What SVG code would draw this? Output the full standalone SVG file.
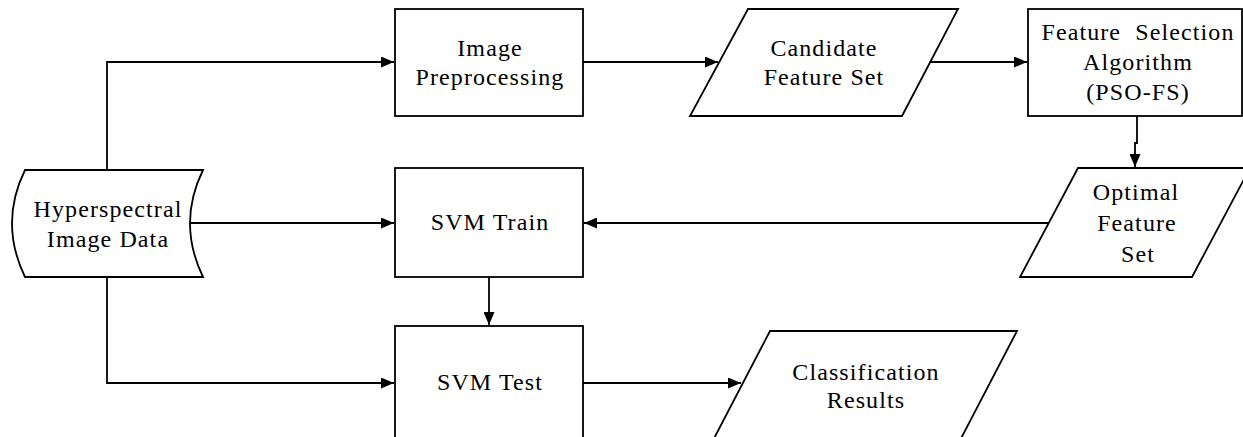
<svg xmlns="http://www.w3.org/2000/svg" width="1243" height="437" viewBox="0 0 1243 437">
<style>
.s{fill:#fff;stroke:#000;stroke-width:1.8}
.c{fill:none;stroke:#000;stroke-width:1.8}
text{font-family:'Liberation Serif','DejaVu Serif',serif;font-size:24px;letter-spacing:1.1px;text-anchor:middle;fill:#000}
</style>
<defs>
<marker id="a" markerWidth="13" markerHeight="11" refX="13" refY="5.5" orient="auto" markerUnits="userSpaceOnUse">
<path d="M0,0 L13,5.5 L0,11 Z" fill="#000"/>
</marker>
</defs>
<rect width="1243" height="437" fill="#fff"/>
<g id="connectors">
<path class="c" d="M107,170 V62 H394" marker-end="url(#a)"/>
<path class="c" d="M583,62 H718" marker-end="url(#a)"/>
<path class="c" d="M929,62 H1027" marker-end="url(#a)"/>
<path class="c" d="M1137,116 V143 H1135 V167" marker-end="url(#a)"/>
<path class="c" d="M1049,223 H584" marker-end="url(#a)"/>
<path class="c" d="M190,223 H394" marker-end="url(#a)"/>
<path class="c" d="M489,277 V325" marker-end="url(#a)"/>
<path class="c" d="M107,277 V383 H394" marker-end="url(#a)"/>
<path class="c" d="M583,383 H741" marker-end="url(#a)"/>
</g>
<g id="hyperspectral">
<path class="s" d="M25,170 L203,170 Q177,223 203,277 L25,277 Q-1,223 25,170 Z"/>
<text x="108" y="217">Hyperspectral</text>
<text x="108" y="247">Image Data</text>
</g>
<g id="preprocessing">
<rect class="s" x="395" y="9" width="188" height="107"/>
<text x="490" y="56">Image</text>
<text x="490" y="85">Preprocessing</text>
</g>
<g id="candidate">
<path class="s" d="M748,9 L958,9 L902,116 L690,116 Z"/>
<text x="824" y="56">Candidate</text>
<text x="824" y="85">Feature Set</text>
</g>
<g id="featureselection">
<rect class="s" x="1028" y="9" width="214" height="107"/>
<text x="1138" y="40" xml:space="preserve">Feature  Selection</text>
<text x="1138" y="70">Algorithm</text>
<text x="1138" y="100">(PSO-FS)</text>
</g>
<g id="optimal">
<path class="s" d="M1078,168 L1250,168 L1192,277 L1020,277 Z"/>
<text x="1136" y="200">Optimal</text>
<text x="1137" y="231">Feature</text>
<text x="1138" y="262">Set</text>
</g>
<g id="svmtrain">
<rect class="s" x="395" y="168" width="188" height="109"/>
<text x="490" y="230">SVM Train</text>
</g>
<g id="svmtest">
<rect class="s" x="395" y="326" width="188" height="120"/>
<text x="490" y="390">SVM Test</text>
</g>
<g id="classification">
<path class="s" d="M770,331 L1017,331 L955,450 L708,450 Z"/>
<text x="866" y="380">Classification</text>
<text x="866" y="408">Results</text>
</g>
</svg>
